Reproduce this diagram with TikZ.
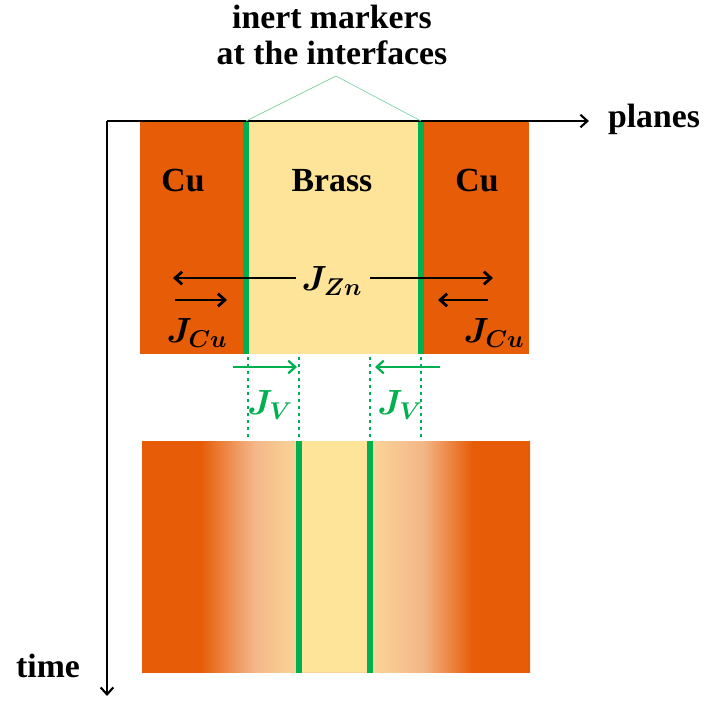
\documentclass[tikz,border=0pt]{standalone}
\usepackage{bm}
\usepackage{fontspec}
\setmainfont{Liberation Serif}
\usetikzlibrary{arrows.meta,positioning}
\definecolor{ccu}{RGB}{230,92,7}
\definecolor{cbrass}{RGB}{253,228,153}
\definecolor{cpeach}{RGB}{243,182,136}
\definecolor{cpale}{RGB}{250,214,152}
\definecolor{cmark}{RGB}{0,176,80}
\pgfdeclarehorizontalshading{annealed}{100bp}{%
	color(0bp)=(ccu); color(32.5bp)=(ccu); color(39.4bp)=(cpeach);%
	color(45.2bp)=(cpale); color(54.4bp)=(cpale); color(61.2bp)=(cpeach);%
	color(67.7bp)=(ccu); color(100bp)=(ccu)}
\tikzset{
	>={Straight Barb[length=5pt,width=9pt]},%
	lbl/.style={font=\fontsize{24}{25}\selectfont\bfseries, inner sep=1pt},%
	flux/.style={font=\fontsize{26}{30}\selectfont, inner sep=1pt},%
	axis/.style={->, line width=1.5pt},%
	flow/.style={->, line width=2pt},%
	vflow/.style={->, cmark, line width=1.6pt},%
	marker/.style={cmark, line width=4.3pt},%
	trace/.style={cmark, line width=2pt, dash pattern=on 2pt off 3pt},%
}

\begin{document}
\begin{tikzpicture}[x=0.025cm, y=-0.025cm]
	\useasboundingbox (0,0) rectangle (706,700);

	% couple before annealing
	\fill[ccu] (140,121) rectangle (529,354);
	\fill[cbrass] (246,121) rectangle (421,354);

	% couple after annealing
	\shade[shading=annealed] (142,441) rectangle (530,672);
	\fill[cbrass] (299,441) rectangle (370,672);

	% markers
	\coordinate (mL) at (246,121);
	\coordinate (mR) at (421,121);
	\coordinate (nL) at (299,441);
	\coordinate (nR) at (370,441);
	\draw[marker] (mL) -- ++(0,233);
	\draw[marker] (mR) -- ++(0,233);
	\draw[marker] (nL) -- ++(0,232);
	\draw[marker] (nR) -- ++(0,232);
	\draw[trace] (248,357) -- (248,440);
	\draw[trace] (mR |- 0,357) -- (mR |- 0,440);
	\draw[trace] (nL |- 0,357) -- (nL);
	\draw[trace] (nR |- 0,357) -- (nR);

	% axes
	\coordinate (O) at (107,121);
	\node[lbl] (planes) at (654,119) {planes};
	\node[lbl] (time) at (48,666) {time};
	\coordinate (xend) at (589,121);
	\coordinate (yend) at (107,696);
	\draw[axis] (O) -- (xend);
	\draw[axis] (O) -- (yend);

	% labels
	\node[lbl] (cuL) at (183,181) {Cu};
	\node[lbl] (brass) at (332,181) {Brass};
	\node[lbl] (cuR) at (477,181) {Cu};
	\node[lbl, align=center] (note) at (332,35) {inert markers\\at the interfaces};
	\coordinate (apex) at (336,76);
	\draw[cmark!50, line width=0.5pt] (mL) -- (apex) -- (mR);

	% fluxes
	\node[flux] (jzn) at (332,281) {$\bm{J_{Zn}}$};
	\coordinate (znL) at (173,278);
	\coordinate (znR) at (493,278);
	\draw[flow] (296,278) -- (znL);
	\draw[flow] (370,278) -- (znR);

	\node[flux] (jcuL) at (197,333) {$\bm{J_{Cu}}$};
	\node[flux] (jcuR) at (494,333) {$\bm{J_{Cu}}$};
	\coordinate (cuA) at (175,300);
	\coordinate (cuB) at (227,300);
	\coordinate (cuC) at (488,300);
	\coordinate (cuD) at (438,300);
	\draw[flow] (cuA) -- (cuB);
	\draw[flow] (cuC) -- (cuD);

	\node[flux, text=cmark] (jvL) at (270,405) {$\bm{J_{V}}$};
	\node[flux, text=cmark] (jvR) at (400,405) {$\bm{J_{V}}$};
	\coordinate (vA) at (233,367);
	\coordinate (vB) at (297,367);
	\coordinate (vC) at (440,367);
	\coordinate (vD) at (375,367);
	\draw[vflow] (vA) -- (vB);
	\draw[vflow] (vC) -- (vD);
\end{tikzpicture}
\end{document}
